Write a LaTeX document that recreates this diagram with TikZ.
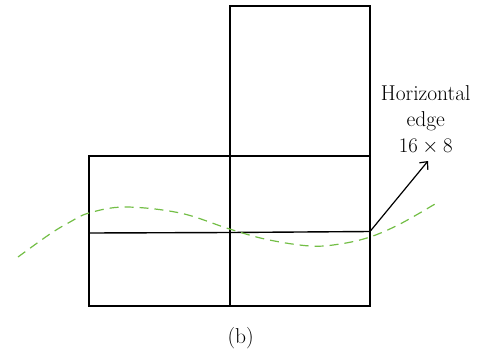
\documentclass[tikz,border=0pt]{standalone}
\usetikzlibrary{arrows.meta}
\definecolor{wavegreen}{RGB}{115,190,70}
\tikzset{
  cell/.style={draw=black, line width=1.4pt},
  lbl/.style={font=\fontsize{21.5}{26}\selectfont, align=center, inner sep=0pt},
  wave/.style={draw=wavegreen, line width=1.2pt, dash pattern=on 9pt off 6pt},
  pointer/.style={draw=black, line width=1.2pt, -{Straight Barb[length=6pt,width=11pt,line width=1.2pt]}}
}
\begin{document}
\begin{tikzpicture}[x=1pt,y=-1pt]
\useasboundingbox (0,0) rectangle (479,351);
% cells
\draw[cell] (230,6) rectangle (370,156);
\draw[cell] (89,156) rectangle (230,306);
\draw[cell] (230,156) rectangle (370,306);
\draw[cell] (89,233) -- (230,232.5) -- (370,231.5);
\draw[black, line width=1.9pt] (230,156) -- (370,156);
\coordinate (corner) at (370,231.5);
% wave
\draw[wave] plot[smooth, tension=0.6] coordinates {(18,257) (50,234) (70,222) (89,213) (125,207) (180,213) (229.5,229) (267,239.5) (310,246) (340,244) (370,237) (400,224) (435,204)};
% label
\node[lbl, anchor=base] (label) at (425.7,152) {Horizontal\\edge\\$16\times 8$};
\coordinate (tip) at (428,161);
\draw[pointer] (corner) -- (tip);
\node[font=\fontsize{21.5}{26}\selectfont, anchor=base] (cap) at (240.7,343) {(b)};
\end{tikzpicture}
\end{document}
